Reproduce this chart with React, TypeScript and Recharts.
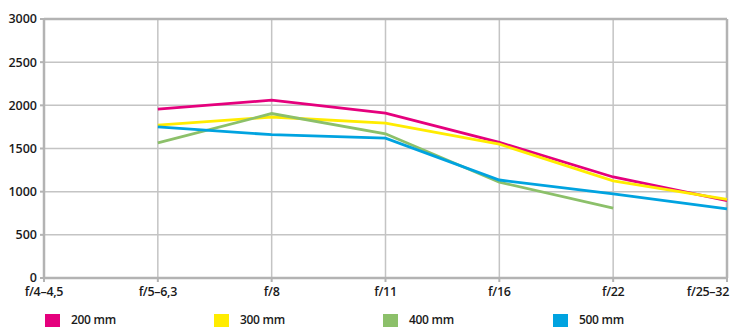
import {
  LineChart,
  Line,
  XAxis,
  YAxis,
  CartesianGrid,
  ReferenceLine,
} from 'recharts';

const apertures = ['f/4–4,5', 'f/5–6,3', 'f/8', 'f/11', 'f/16', 'f/22', 'f/25–32'];
const mm200 = [null, 1955, 2060, 1910, 1570, 1170, 895];
const mm300 = [null, 1770, 1865, 1795, 1550, 1125, 910];
const mm400 = [null, 1565, 1905, 1670, 1110, 810, null];
const mm500 = [null, 1750, 1660, 1620, 1135, 975, 800];
const yTicks = [0, 500, 1000, 1500, 2000, 2500, 3000];

const seriesList = [
  { key: 'mm200', name: '200 mm', color: '#e5007d' },
  { key: 'mm300', name: '300 mm', color: '#ffec00' },
  { key: 'mm400', name: '400 mm', color: '#8cc06a' },
  { key: 'mm500', name: '500 mm', color: '#00a3e0' },
];

const data = apertures.map((a, i) => ({
  aperture: a,
  mm200: mm200[i],
  mm300: mm300[i],
  mm400: mm400[i],
  mm500: mm500[i],
}));

const FONT = '"Open Sans", sans-serif';
const GRID = '#c4c4c4';
const AXIS = '#b3b3b3';

function XTick({ x, y, payload, index }: any) {
  const last = index === apertures.length - 1;
  return (
    <text
      x={last ? x + 2 : x}
      y={y + 12}
      textAnchor={last ? 'end' : 'middle'}
      fill="#1a1a1a"
      fontFamily={FONT}
      fontWeight={600}
      fontSize={12.5}
      letterSpacing={-0.3}
    >
      {payload.value}
    </text>
  );
}

function ChartLegend() {
  const xs = [45, 214, 383, 553];
  return (
    <div style={{ position: 'absolute', left: 0, top: 313, width: 730, height: 14 }}>
      {seriesList.map((s, i) => (
        <div key={s.key} style={{ position: 'absolute', left: xs[i], top: 0, display: 'flex', alignItems: 'flex-start' }}>
          <span style={{ display: 'inline-block', width: 15, height: 14, marginTop: 1, background: s.color }} />
          <span
            style={{
              marginLeft: 11,
              fontFamily: FONT,
              fontWeight: 600,
              fontSize: 12,
              lineHeight: '14px',
              color: '#1a1a1a',
              letterSpacing: -0.3,
            }}
          >
            {s.name}
          </span>
        </div>
      ))}
    </div>
  );
}

export default function App() {
  return (
    <div style={{ position: 'absolute', left: 0, top: 0, width: 730, height: 327, background: '#fff', overflow: 'hidden' }}>
      <LineChart
        width={730}
        height={327}
        data={data}
        margin={{ top: 19, right: 3, left: 0, bottom: 24 }}
      >
        <CartesianGrid stroke={GRID} strokeWidth={1.5} />
        <XAxis
          dataKey="aperture"
          padding={{ left: 0, right: 0 }}
          axisLine={{ stroke: AXIS, strokeWidth: 2.5 }}
          tickLine={{ stroke: AXIS, strokeWidth: 2 }}
          tickSize={4}
          tick={<XTick />}
          interval={0}
          height={25}
        />
        <YAxis
          domain={[0, 3000]}
          ticks={yTicks}
          width={44}
          axisLine={{ stroke: AXIS, strokeWidth: 2.5 }}
          tickLine={{ stroke: AXIS, strokeWidth: 2 }}
          tickSize={4}
          tickMargin={3}
          tick={{ fill: '#1a1a1a', fontFamily: FONT, fontWeight: 600, fontSize: 12.5 }}
        />
        <ReferenceLine y={3000} stroke={AXIS} strokeWidth={2.5} />
        <ReferenceLine x="f/25–32" stroke={AXIS} strokeWidth={2.5} />
        {seriesList.map((s) => (
          <Line
            key={s.key}
            dataKey={s.key}
            name={s.name}
            stroke={s.color}
            strokeWidth={2.8}
            dot={false}
            type="linear"
            isAnimationActive={false}
          />
        ))}
      </LineChart>
      <ChartLegend />
    </div>
  );
}
